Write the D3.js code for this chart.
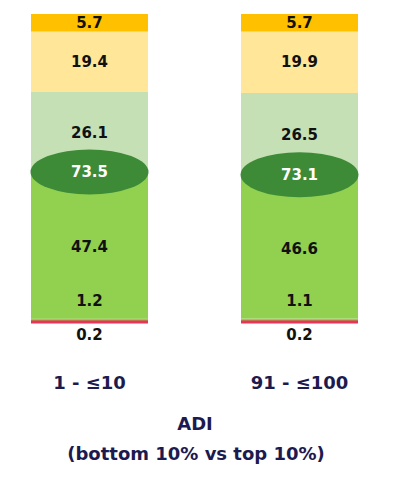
<!DOCTYPE html>
<html>
<head>
<meta charset="utf-8">
<script src="https://cdn.jsdelivr.net/npm/d3@7"></script>
<style>
  body { margin: 0; background: #fff; }
  svg text { font-family: "DejaVu Sans", Lato, sans-serif; font-weight: bold; }
</style>
</head>
<body>
<div id="chart"></div>
<script>
// categorias (ADI decil)
const categories = ["1 - ≤10", "91 - ≤100"];
// segmentos, de abajo hacia arriba
const pctRed = [0.2, 0.2];
const pctGreenLow = [1.2, 1.1];
const pctGreen = [47.4, 46.6];
const pctLightGreen = [26.1, 26.5];
const pctLightYellow = [19.4, 19.9];
const pctOrange = [5.7, 5.7];
// total verde (elipse)
const pctCombined = [73.5, 73.1];

const keys = ["red", "greenLow", "green", "lightGreen", "lightYellow", "orange"];
const colors = {
  red: "#e8345a", greenLow: "#92d050", green: "#92d050",
  lightGreen: "#c5e0b4", lightYellow: "#ffe699", orange: "#ffc000"
};
const data = categories.map((c, i) => ({
  cat: c, red: pctRed[i], greenLow: pctGreenLow[i], green: pctGreen[i],
  lightGreen: pctLightGreen[i], lightYellow: pctLightYellow[i], orange: pctOrange[i],
  combined: pctCombined[i]
}));

const W = 394, H = 484;
const svg = d3.select("#chart").append("svg").attr("width", W).attr("height", H);

const x = d3.scaleBand().domain(categories).range([31, 358]).paddingInner(0.443).paddingOuter(0);
const y = d3.scaleLinear().domain([0, 100]).range([322.5, 14]);

const series = d3.stack().keys(keys)(data);

// barras apiladas (la linea roja se dibuja encima, algo mas gruesa)
const layers = svg.append("g").selectAll("g").data(series).join("g")
  .attr("fill", d => colors[d.key]);
layers.selectAll("rect").data(d => d).join("rect")
  .attr("x", d => x(d.data.cat))
  .attr("width", x.bandwidth())
  .attr("y", function(d) {
    const k = d3.select(this.parentNode).datum().key;
    return k === "red" ? y(d[1]) - 1.5 : y(d[1]);
  })
  .attr("height", function(d) {
    const k = d3.select(this.parentNode).datum().key;
    return k === "red" ? y(d[0]) - y(d[1]) + 2.5 : y(d[0]) - y(d[1]);
  });
layers.filter(d => d.key === "red").raise();

// etiquetas de segmentos
const labelFor = (key, dy) => {
  const s = series.find(s => s.key === key);
  svg.append("g").selectAll("text").data(s).join("text")
    .attr("x", d => x(d.data.cat) + x.bandwidth() / 2)
    .attr("y", d => (y(d[0]) + y(d[1])) / 2 + dy)
    .attr("text-anchor", "middle")
    .attr("dominant-baseline", "central")
    .attr("font-size", 15)
    .attr("fill", "#111")
    .text(d => d3.format(".1f")(d[1] - d[0]));
};
labelFor("orange", 0);
labelFor("lightYellow", 0);
labelFor("lightGreen", 1);
labelFor("green", 2);
labelFor("greenLow", -19);
labelFor("red", 13);

// elipse con total verde
const gE = svg.append("g").selectAll("g").data(data).join("g")
  .attr("transform", d => `translate(${x(d.cat) + x.bandwidth() / 2},${y(d.red + d.greenLow + d.green)})`);
gE.append("ellipse")
  .attr("rx", x.bandwidth() / 2 + 0.5)
  .attr("ry", 22.5)
  .attr("fill", "#3d8b37");
gE.append("text")
  .attr("text-anchor", "middle")
  .attr("dominant-baseline", "central")
  .attr("font-size", 15)
  .attr("fill", "#fff")
  .text(d => d3.format(".1f")(d.combined));

// eje x
const xAxis = svg.append("g").attr("transform", "translate(0,382)")
  .call(d3.axisBottom(x).tickSize(0).tickPadding(0));
xAxis.select(".domain").remove();
xAxis.selectAll("text")
  .attr("dy", null)
  .attr("dominant-baseline", "central")
  .attr("font-family", "'DejaVu Sans', sans-serif")
  .attr("font-size", 18)
  .attr("font-weight", "bold")
  .attr("fill", "#1c1a4e");

svg.append("text").attr("x", 195).attr("y", 423)
  .attr("text-anchor", "middle").attr("dominant-baseline", "central")
  .attr("font-size", 18).attr("fill", "#1c1a4e")
  .text("ADI");
svg.append("text").attr("x", 196).attr("y", 453)
  .attr("text-anchor", "middle").attr("dominant-baseline", "central")
  .attr("font-size", 18).attr("fill", "#1c1a4e")
  .text("(bottom 10% vs top 10%)");
</script>
</body>
</html>
